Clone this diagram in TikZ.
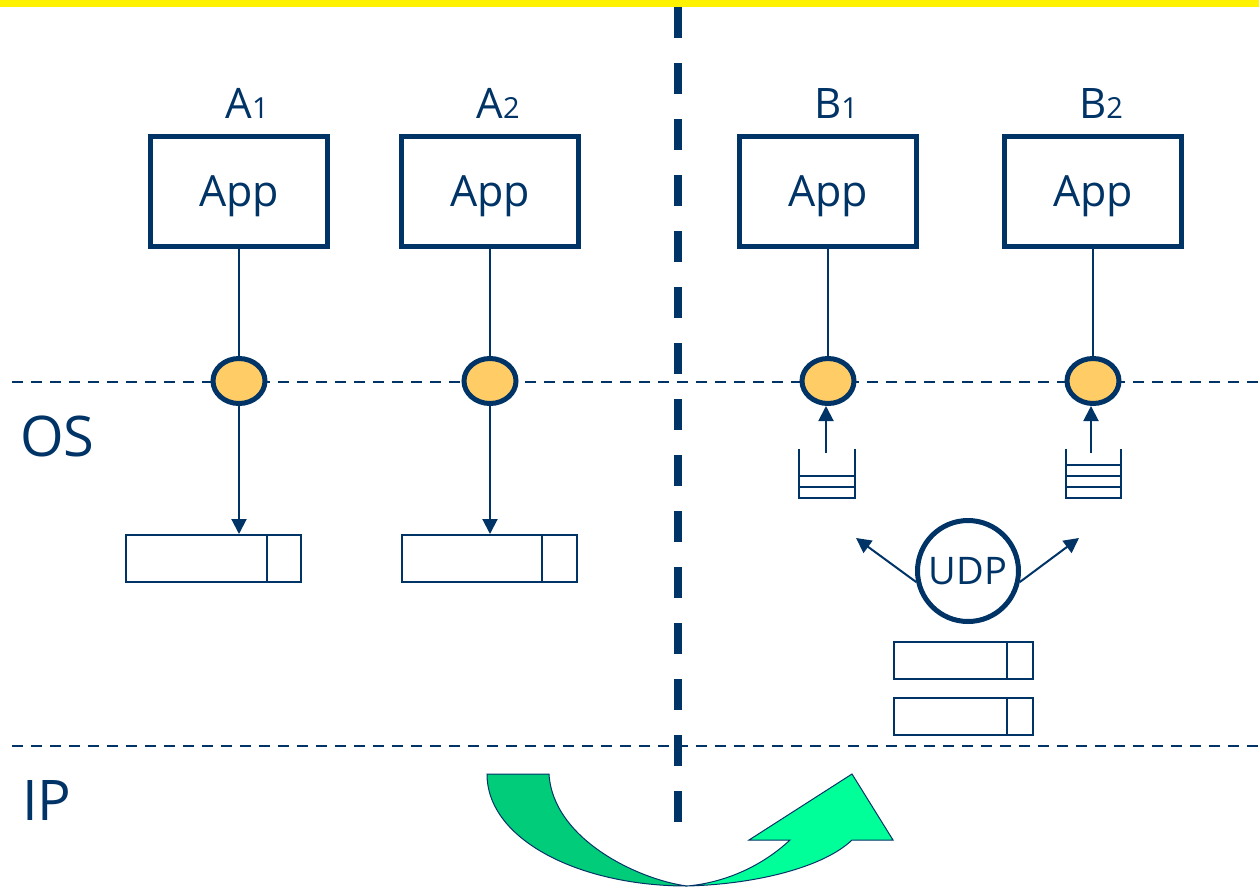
\documentclass[tikz,border=0pt]{standalone}
\usepackage{fontspec}
\setmainfont{Open Sans}
\usetikzlibrary{arrows.meta,shapes.geometric}
\definecolor{navy}{HTML}{003366}
\definecolor{sockfill}{HTML}{FFCC66}
\definecolor{greenA}{HTML}{00CC7A}
\definecolor{greenB}{HTML}{00FF99}
\newcommand\idx[1]{{\fontsize{29}{29}\selectfont #1}}
\tikzset{
  app/.style={draw=navy,line width=5pt,minimum width=177pt,minimum height=110pt,inner sep=0pt,text depth=0pt,text=navy,font=\fontsize{43}{43}\selectfont},
  sock/.style={ellipse,draw=navy,fill=sockfill,line width=5pt,minimum width=52pt,minimum height=45pt,inner sep=0pt},
  udp/.style={circle,draw=navy,line width=5pt,minimum size=101pt,inner sep=0pt,text depth=0pt,text=navy,font=\fontsize{38}{38}\selectfont},
  buf/.style={draw=navy,line width=2pt,inner sep=0pt},
  link/.style={navy,line width=2pt},
  layer/.style={navy,line width=2.5pt,dash pattern=on 11pt off 8pt},
  split/.style={navy,line width=8pt,dash pattern=on 31pt off 25pt},
  lbl/.style={text=navy,inner sep=0pt,font=\fontsize{42}{42}\selectfont},
  layertxt/.style={text=navy,inner sep=0pt,font=\fontsize{56}{56}\selectfont}
}
\begin{document}
\begin{tikzpicture}[x=1pt,y=-1pt,>={Triangle[width=15pt,length=15pt]}]
    \useasboundingbox (0,0) rectangle (1259,887);
    \fill[yellow] (0,0) rectangle (1259,7);
    % layers and the split between hosts
    \draw[layer] (12,382) -- (1259,382);
    \draw[layer] (12,746) -- (1259,746);
    \draw[split] (678,7) -- (678,825);
    \node[layertxt,anchor=base west] (os) at (20,456) {OS};
    \node[layertxt,anchor=base west] (ip) at (22,820) {IP};
    % applications and their sockets
    \foreach \n/\x/\l/\d in {A1/239/A/1,A2/490/A/2,B1/828/B/1,B2/1093/B/2}{
      \node[app] (\n) at (\x,191.5) {App};
      \node[lbl,anchor=base] (t\n) at (\x+8,118) {\l\idx{\d}};
      \node[sock] (e\n) at (\x,381) {};
      \draw[link] (\n) -- (e\n);
    }
    % sending side
    \node[buf,minimum width=175pt,minimum height=47pt] (bA1) at (213.5,558.5) {};
    \node[buf,minimum width=175pt,minimum height=47pt] (bA2) at (489.5,558.5) {};
    \draw[link,->] (eA1) -- (eA1 |- bA1.north);
    \draw[link,->] (eA2) -- (eA2 |- bA2.north);
    % receiving queues
    \draw[link] (799,449) |- (855,498) -- (855,449);
    \foreach \y in {476,487} \draw[link] (799,\y) -- (855,\y);
    \draw[link] (1066,449) |- (1121,498) -- (1121,449);
    \foreach \y in {465,476,487} \draw[link] (1066,\y) -- (1121,\y);
    \coordinate (qB1) at (826,453);
    \coordinate (qB2) at (1091,453);
    \draw[link,->] (qB1) -- (qB1 |- eB1.south);
    \draw[link,->] (qB2) -- (qB2 |- eB2.south);
    % demultiplexing
    \node[udp] (udp) at (968,571) {UDP};
    \coordinate (toB1) at (856,538);
    \coordinate (toB2) at (1079,538);
    \draw[link,->] (udp.192) -- (toB1);
    \draw[link,->] (udp.348) -- (toB2);
    \node[buf,minimum width=139pt,minimum height=37pt] (bU1) at (963.5,660.5) {};
    \node[buf,minimum width=139pt,minimum height=37pt] (bU2) at (963.5,716.5) {};
    \foreach \n/\d in {bA1/35,bA2/36,bU1/27,bU2/27}
      \draw[link] ([xshift=-\d pt]\n.north east) -- ([xshift=-\d pt]\n.south east);
    % datagram crossing over IP
    \filldraw[fill=greenB,draw=navy,line width=1pt] (687,886) .. controls (760,884) and (825,866) .. (852,840) -- (893,840) -- (852,774) -- (749,840) -- (790,840) .. controls (760,868) and (722,883) .. (687,886) -- cycle;
    \filldraw[fill=greenA,draw=navy,line width=1pt] (487,774) -- (549,774) .. controls (553,840) and (640,880) .. (687,886) .. controls (580,886) and (487,840) .. (487,774) -- cycle;
\end{tikzpicture}
\end{document}
